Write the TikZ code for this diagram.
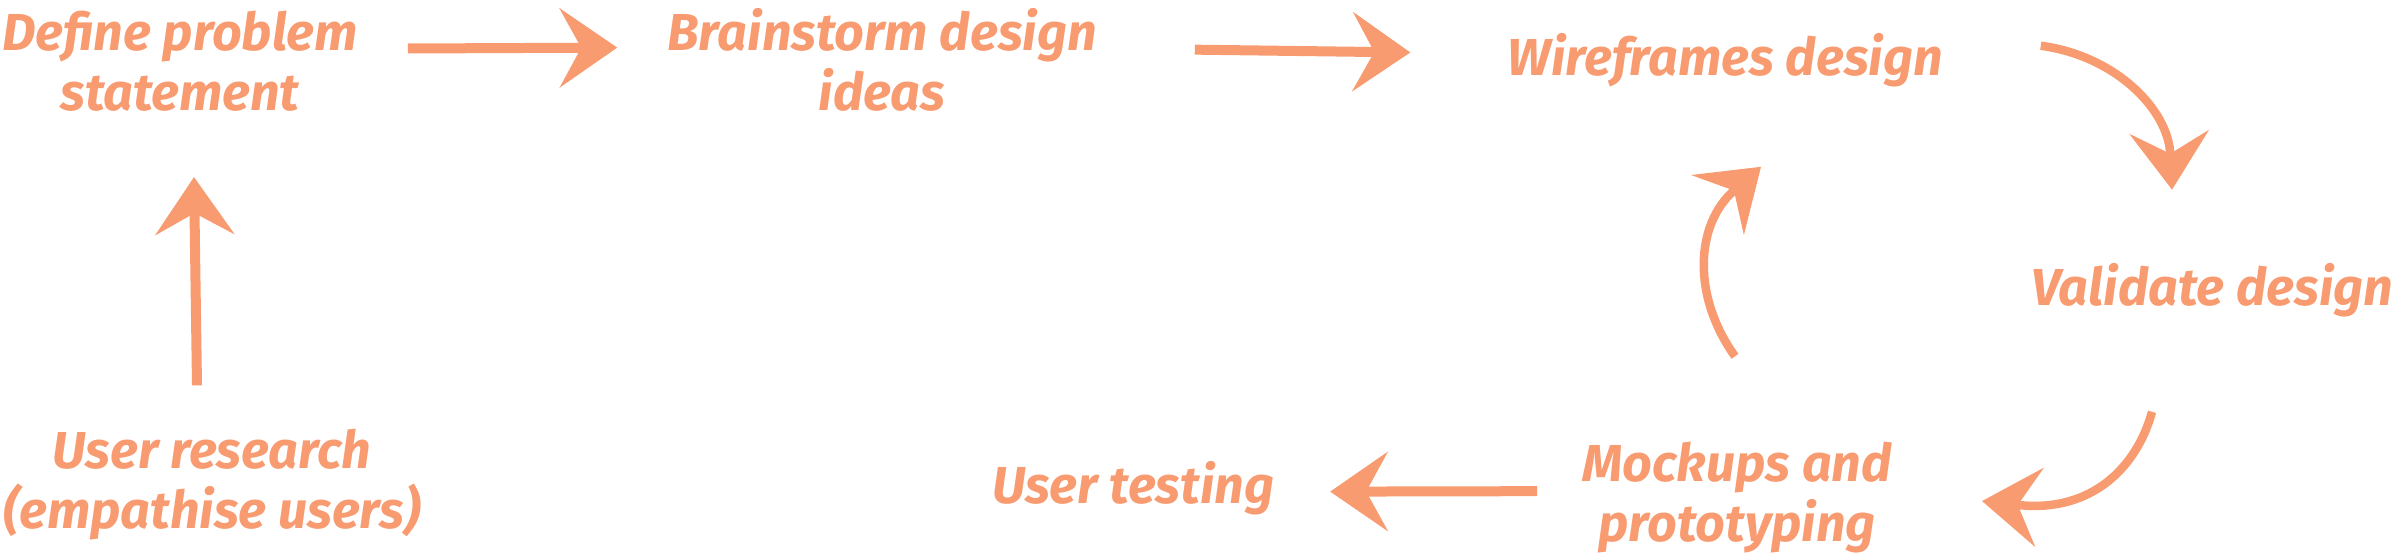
\documentclass[tikz,border=0pt]{standalone}
\usepackage{fontspec}
\setmainfont{Fira Sans}
\usetikzlibrary{arrows.meta}
\definecolor{salmon}{HTML}{F89B70}

\begin{document}
\begin{tikzpicture}[x=1pt,y=-1pt,
    step label/.style={text=salmon, align=center, inner sep=0pt, anchor=base,
      font=\fontsize{52}{60}\selectfont\bfseries\itshape},
    arr/.style={draw=salmon, line width=10pt,
      -{Stealth[length=58pt,width=80pt,inset=22pt,line width=0pt]}},
    bent arr/.style={arr, line width=8.5pt}]
  % Fix the page size
  \useasboundingbox (0,0) rectangle (2392,554);
  % Draw the steps (base is the last line)
  \node[step label] (define) at (180,110) {Define problem\\statement};
  \node[step label] (brain) at (882,110) {Brainstorm design\\ideas};
  \node[step label] (wire) at (1725,75) {Wireframes design};
  \node[step label] (valid) at (2212,305) {Validate design};
  \node[step label] (mock) at (1737,541) {Mockups and\\prototyping};
  \node[step label] (testing) at (1133,503) {User testing};
  \node[step label] (research) at (212,528) {User research\\(empathise users)};
  % Draw the straight arrows
  \draw[arr, shorten <=50pt, shorten >=50pt] ([yshift=12pt]define.east) -- ([yshift=12pt]brain.west);
  \draw[arr, shorten <=98pt, shorten >=97pt] ([yshift=11pt]brain.east) -- ([yshift=6pt]wire.west);
  \draw[arr, shorten <=45pt, shorten >=56pt] ([yshift=6pt]mock.west) -- ([yshift=-4pt]testing.east);
  \draw[arr] ([shift={(-15,-43)}]research.north) -- ([shift={(14,66)}]define.south);
  % Draw the loop
  \draw[bent arr] ([shift={(98,-14)}]wire.east) .. controls +(75,10) and +(-4,-80) .. ([shift={(-40,-73)}]valid.north);
  \draw[bent arr] ([shift={(-60,95)}]valid.south) .. controls +(-15,55) and +(110,12) .. ([shift={(90,4)}]mock.east);
  \draw[bent arr] ([shift={(-2,-85)}]mock.north) .. controls +(-43,-60) and +(-66,58) .. ([shift={(36,80)}]wire.south);
\end{tikzpicture}
\end{document}
